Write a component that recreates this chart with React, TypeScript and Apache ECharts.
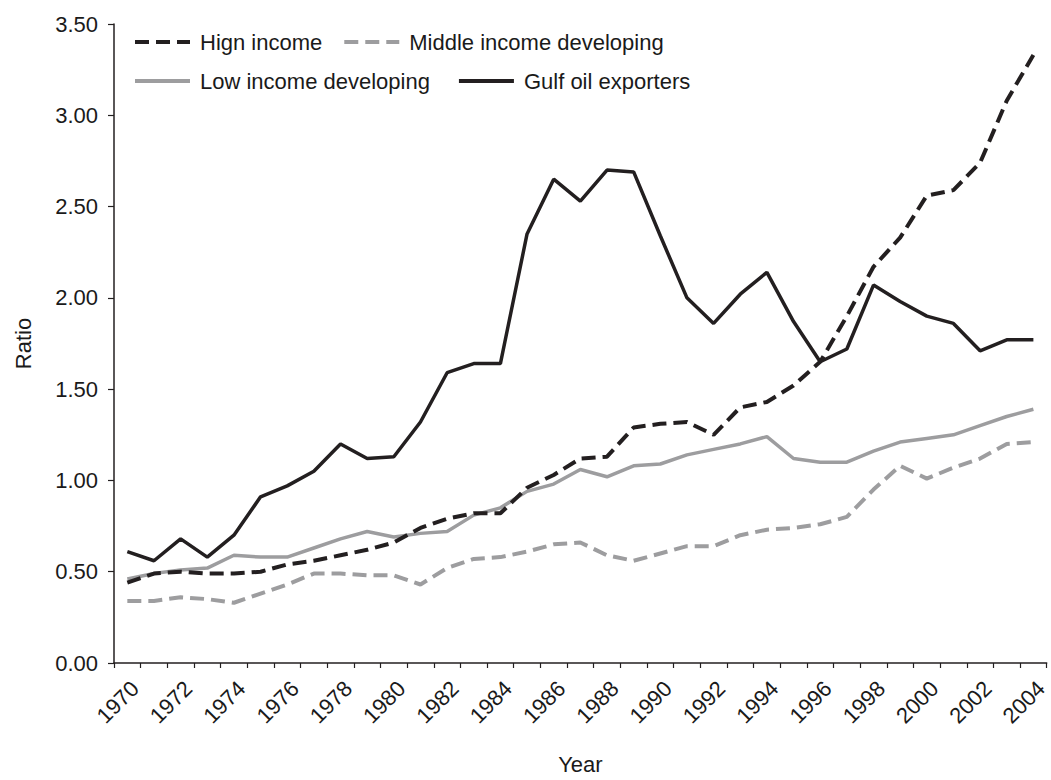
import React, { useEffect, useRef } from "react";
import * as echarts from "echarts";

const years: string[] = [
  "1970","1971","1972","1973","1974","1975","1976","1977","1978","1979",
  "1980","1981","1982","1983","1984","1985","1986","1987","1988","1989",
  "1990","1991","1992","1993","1994","1995","1996","1997","1998","1999",
  "2000","2001","2002","2003","2004",
];

const highIncome: number[] = [
  0.44, 0.49, 0.50, 0.49, 0.49, 0.50, 0.54, 0.56, 0.59, 0.62,
  0.66, 0.74, 0.79, 0.82, 0.82, 0.96, 1.03, 1.12, 1.13, 1.29,
  1.31, 1.32, 1.25, 1.40, 1.43, 1.52, 1.65, 1.90, 2.17, 2.33,
  2.56, 2.59, 2.74, 3.08, 3.33,
];

const middleIncome: number[] = [
  0.34, 0.34, 0.36, 0.35, 0.33, 0.38, 0.43, 0.49, 0.49, 0.48,
  0.48, 0.43, 0.52, 0.57, 0.58, 0.61, 0.65, 0.66, 0.59, 0.56,
  0.60, 0.64, 0.64, 0.70, 0.73, 0.74, 0.76, 0.80, 0.95, 1.08,
  1.01, 1.07, 1.12, 1.20, 1.21,
];

const lowIncome: number[] = [
  0.46, 0.49, 0.51, 0.52, 0.59, 0.58, 0.58, 0.63, 0.68, 0.72,
  0.69, 0.71, 0.72, 0.81, 0.85, 0.94, 0.98, 1.06, 1.02, 1.08,
  1.09, 1.14, 1.17, 1.20, 1.24, 1.12, 1.10, 1.10, 1.16, 1.21,
  1.23, 1.25, 1.30, 1.35, 1.39,
];

const gulfOil: number[] = [
  0.61, 0.56, 0.68, 0.58, 0.70, 0.91, 0.97, 1.05, 1.20, 1.12,
  1.13, 1.32, 1.59, 1.64, 1.64, 2.35, 2.65, 2.53, 2.70, 2.69,
  2.34, 2.00, 1.86, 2.02, 2.14, 1.87, 1.65, 1.72, 2.07, 1.98,
  1.90, 1.86, 1.71, 1.77, 1.77,
];

const seriesNames: string[] = [
  "Hign income",
  "Middle income developing",
  "Low income developing",
  "Gulf oil exporters",
];

const BLACK = "#231f20";
const GRAY = "#9d9d9f";
const FONT = "'Liberation Sans', Arial, sans-serif";

export default function App() {
  const ref = useRef<HTMLDivElement | null>(null);

  useEffect(() => {
    if (!ref.current) return;
    const chart = echarts.init(ref.current, undefined, { renderer: "svg" });
    const textStyle = { color: "#1a1a1a", fontSize: 22, fontFamily: FONT };
    const legendCommon = {
      orient: "horizontal" as const,
      itemWidth: 55,
      itemHeight: 14,
      textStyle: { ...textStyle, padding: [0, 0, 0, 5] },
      itemStyle: { opacity: 0 },
      lineStyle: { width: 4 },
    };
    chart.setOption({
      animation: false,
      backgroundColor: "#ffffff",
      textStyle: { fontFamily: FONT },
      grid: { left: 114, right: 0, top: 24, bottom: 115, containLabel: false },
      legend: [
        { ...legendCommon, left: 128, top: 26, itemGap: 20, data: [seriesNames[0], seriesNames[1]] },
        { ...legendCommon, left: 128, top: 65, itemGap: 27, data: [seriesNames[2], seriesNames[3]] },
      ],
      xAxis: {
        type: "category",
        data: years,
        boundaryGap: true,
        name: "Year",
        nameLocation: "middle",
        nameGap: 90,
        nameTextStyle: textStyle,
        axisLine: { lineStyle: { color: BLACK, width: 1.5 } },
        axisTick: { show: true, length: 5, interval: 0, lineStyle: { color: BLACK, width: 1.2 } },
        axisLabel: { ...textStyle, rotate: 45, interval: 1, margin: 14, align: "right", verticalAlign: "top" },
        splitLine: { show: false },
      },
      yAxis: {
        type: "value",
        min: 0,
        max: 3.5,
        interval: 0.5,
        name: "Ratio",
        nameLocation: "middle",
        nameGap: 80,
        nameRotate: 90,
        nameTextStyle: textStyle,
        axisLine: { show: true, lineStyle: { color: BLACK, width: 1.5 } },
        axisTick: { show: true, length: 6, lineStyle: { color: BLACK, width: 1.2 } },
        axisLabel: { ...textStyle, margin: 16, formatter: (v: number) => v.toFixed(2) },
        splitLine: { show: false },
      },
      series: [
        {
          name: seriesNames[1],
          type: "line",
          data: middleIncome,
          symbol: "none",
          color: GRAY,
          lineStyle: { color: GRAY, width: 4, type: [14, 7] },
          z: 2,
        },
        {
          name: seriesNames[2],
          type: "line",
          data: lowIncome,
          symbol: "none",
          color: GRAY,
          lineStyle: { color: GRAY, width: 3.5, type: "solid" },
          z: 2,
        },
        {
          name: seriesNames[3],
          type: "line",
          data: gulfOil,
          symbol: "none",
          color: BLACK,
          lineStyle: { color: BLACK, width: 3.5, type: "solid" },
          z: 3,
        },
        {
          name: seriesNames[0],
          type: "line",
          data: highIncome,
          symbol: "none",
          color: BLACK,
          lineStyle: { color: BLACK, width: 4, type: [14, 7] },
          z: 4,
        },
      ],
    });
    return () => chart.dispose();
  }, []);

  return (
    <div
      ref={ref}
      style={{ position: "fixed", left: 0, top: 0, width: 1051, height: 780, background: "#fff" }}
    />
  );
}
